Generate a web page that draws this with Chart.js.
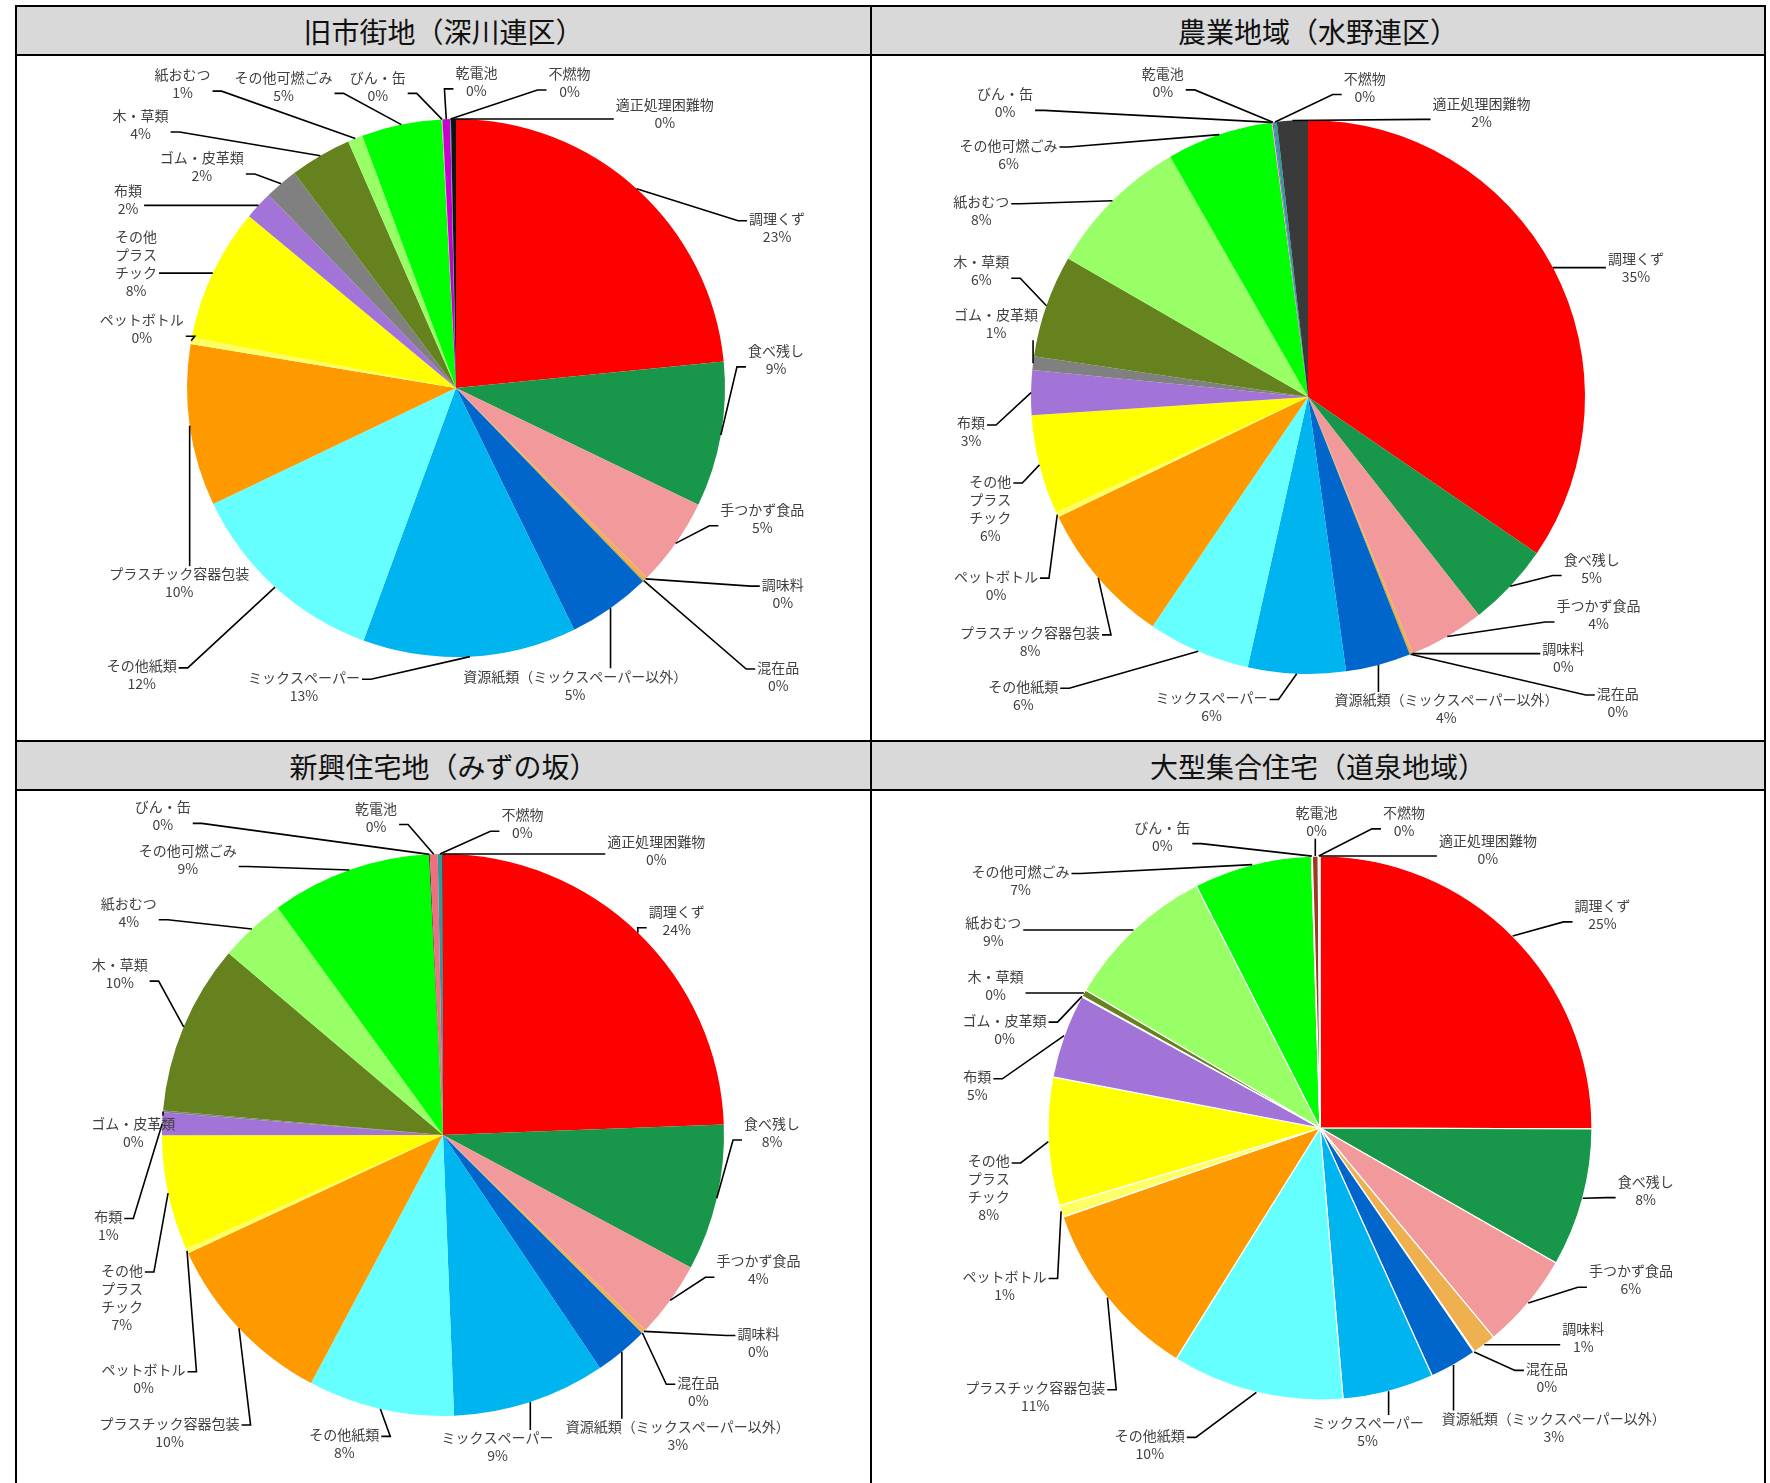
<!DOCTYPE html>
<html><head><meta charset="utf-8">
<script src="https://cdn.jsdelivr.net/npm/chart.js@4.4.1/dist/chart.umd.min.js"></script>
<style>
html,body{margin:0;padding:0;background:#fff;}
body{width:1770px;height:1483px;position:relative;overflow:hidden;font-family:"Noto Sans CJK JP","Noto Sans",sans-serif;}
.panel{position:absolute;box-sizing:border-box;border:2px solid #000;background:#fff;}
.head{height:47px;background:#d9d9d9;border-bottom:2px solid #000;display:flex;align-items:center;justify-content:center;font-size:28px;color:#111;line-height:1;}
canvas{display:block;}
</style></head><body>
<script>
// ---- data ----
const categories = ['調理くず','食べ残し','手つかず食品','調味料','混在品','資源紙類（ミックスペーパー以外）','ミックスペーパー','その他紙類','プラスチック容器包装','ペットボトル','その他プラスチック','布類','ゴム・皮革類','木・草類','紙おむつ','その他可燃ごみ','びん・缶','乾電池','不燃物','適正処理困難物'];
const titles = ['旧市街地（深川連区）','農業地域（水野連区）','新興住宅地（みずの坂）','大型集合住宅（道泉地域）'];
const fukagawa   = [23.4, 8.7, 5.3, 0.2, 0.1, 5.0, 12.8, 12.3, 9.7, 0.4, 8.0, 1.7, 2.0, 3.7, 0.9, 4.8, 0.05, 0.45, 0.05, 0.3];
const mizuno     = [34.6, 4.9, 4.4, 0.1, 0.1, 3.8, 5.7, 6.0, 8.4, 0.3, 5.8, 2.6, 0.8, 6.0, 8.4, 6.2, 0.05, 0.05, 0.2, 1.8];
const mizunozaka = [24.4, 8.4, 4.4, 0.2, 0.05, 3.1, 8.8, 8.4, 10.3, 0.3, 6.6, 1.3, 0.1, 9.8, 3.8, 9.2, 0.05, 0.45, 0.25, 0.05];
const dosen      = [25.0, 8.2, 5.7, 1.4, 0.05, 2.8, 5.4, 10.2, 10.8, 0.7, 7.6, 5.0, 0.05, 0.4, 9.0, 7.0, 0.05, 0.35, 0.05, 0.05];
const seriesList = [fukagawa, mizuno, mizunozaka, dosen];

// ---- styles ----
const baseColors = ['#ff0000','#18964a','#f2999b','#efb050','#d9a441','#0066cc','#00b4f0','#66ffff','#ff9900','#ffff66','#ffff00','#a374d8','#808080','#66821f','#99ff66','#00ff00','#bfbfbf','#cc00cc','#2e9c9c','#333333'];
const colorOverrides = [{19:'#111111'}, {19:'#3a3a3a'}, {17:'#ef6f7f', 16:'#222222'}, {17:'#9c3a1f'}];
const wrapNames = {'その他プラスチック':['その他','プラス','チック']};
const S = 1.1346; // label offset scale
const labelPos = [
 [[283,-141],[282,-25],[270,115],[288,181],[284,254],[105,262],[-134,263],[-277,253],[-244,172],[-277,-52],[-282,-110],[-289,-166],[-224,-195],[-278,-232],[-241,-268],[-152,-266],[-69,-266],[18,-270],[100,-269],[184,-242]],
 [[289,-114],[250,151],[256,192],[225,230],[273,269],[122,275],[-85,273],[-251,263],[-245,216],[-275,166],[-280,98],[-297,31],[-275,-65],[-288,-111],[-288,-164],[-264,-214],[-267,-259],[-128,-277],[50,-273],[153,-251]],
 [[206,-189],[290,-2],[278,119],[278,183],[225,226],[207,265],[48,275],[-87,272],[-241,262],[-264,215],[-283,143],[-295,80],[-273,-2],[-285,-142],[-277,-196],[-225,-243],[-247,-281],[-59,-280],[70,-274],[188,-251]],
 [[249,-188],[287,55],[274,134],[232,185],[200,220],[206,264],[42,268],[-150,279],[-251,237],[-278,139],[-292,53],[-302,-37],[-278,-87],[-286,-125],[-288,-173],[-264,-218],[-139,-257],[-3,-270],[74,-270],[148,-245]]
];
const panels = [
 {left:15, top:5, w:857, h:737, cx:439, cy:332, r:269, bw:0},
 {left:870, top:5, w:896, h:737, cx:436, cy:341, r:277, bw:0},
 {left:15, top:740, w:857, h:800, cx:426, cy:344, r:281, bw:0},
 {left:870, top:740, w:896, h:800, cx:448, cy:337, r:272, bw:1.2}
];

const leaderPlugin = {
  id:'leader',
  afterDatasetsDraw(chart, args, opts){
    const ctx = chart.ctx;
    const meta = chart.getDatasetMeta(0);
    const ds = chart.data.datasets[0];
    const total = ds.data.reduce((a,b)=>a+b,0);
    const pos = opts.positions;
    const LH = 18;
    ctx.save();
    ctx.font = '14px "Noto Sans CJK JP"';
    ctx.textAlign = 'center'; ctx.textBaseline = 'middle';
    meta.data.forEach((arc,i)=>{
      const p = arc.getProps(['x','y','startAngle','endAngle','outerRadius'], true);
      const mid = (p.startAngle + p.endAngle)/2;
      const ax = p.x + Math.cos(mid)*p.outerRadius, ay = p.y + Math.sin(mid)*p.outerRadius;
      const name = chart.data.labels[i];
      const lines = (wrapNames[name] || [name]).concat([Math.round(ds.data[i]/total*100) + '%']);
      const cx = p.x + pos[i][0]*S, cy = p.y + pos[i][1]*S;
      const w = Math.max(...lines.map(l=>ctx.measureText(l).width));
      const h = lines.length*LH;
      const left = cx - w/2, right = cx + w/2, top = cy - h/2, bottom = cy + h/2;
      ctx.strokeStyle = '#000'; ctx.lineWidth = 1.6;
      ctx.beginPath(); ctx.moveTo(ax, ay);
      if (ax > left + 3 && ax < right - 3) {
        ctx.lineTo(ax, ay < top ? top + 1 : bottom - 1);
      } else {
        const side = ax < cx ? -1 : 1;
        const ex = side < 0 ? left - 2 : right + 2;
        const ey = Math.min(Math.max(ay, top + LH*0.6), bottom - LH*0.6);
        ctx.lineTo(ex + side*9, ey); ctx.lineTo(ex, ey);
      }
      ctx.stroke();
      ctx.fillStyle = '#404040';
      lines.forEach((l,k)=>ctx.fillText(l, cx, top + LH*(k+0.5)));
    });
    ctx.restore();
  }
};

panels.forEach((pn, idx)=>{
  const div = document.createElement('div');
  div.className = 'panel';
  Object.assign(div.style, {left:pn.left+'px', top:pn.top+'px', width:pn.w+'px', height:pn.h+'px'});
  const head = document.createElement('div');
  head.className = 'head'; head.textContent = titles[idx];
  div.appendChild(head);
  const cw = pn.w - 4, ch = pn.h - 4 - 49;
  const cv = document.createElement('canvas');
  cv.width = cw; cv.height = ch; cv.style.width = cw+'px'; cv.style.height = ch+'px';
  div.appendChild(cv);
  document.body.appendChild(div);
  const half = Math.min(pn.cx, cw - pn.cx, pn.cy, ch - pn.cy) - 1;
  const colors = baseColors.map((c,i)=> (colorOverrides[idx][i] || c));
  new Chart(cv, {
    type:'pie',
    data:{labels:categories, datasets:[{data:seriesList[idx], backgroundColor:colors, borderColor:'#ffffff', borderWidth:pn.bw, radius:pn.r}]},
    options:{
      responsive:false, animation:false,
      layout:{padding:{left:pn.cx-half, right:cw-pn.cx-half, top:pn.cy-half, bottom:ch-pn.cy-half}},
      plugins:{legend:{display:false}, tooltip:{enabled:false}, leader:{positions:labelPos[idx]}}
    },
    plugins:[leaderPlugin]
  });
});
</script>
</body></html>
